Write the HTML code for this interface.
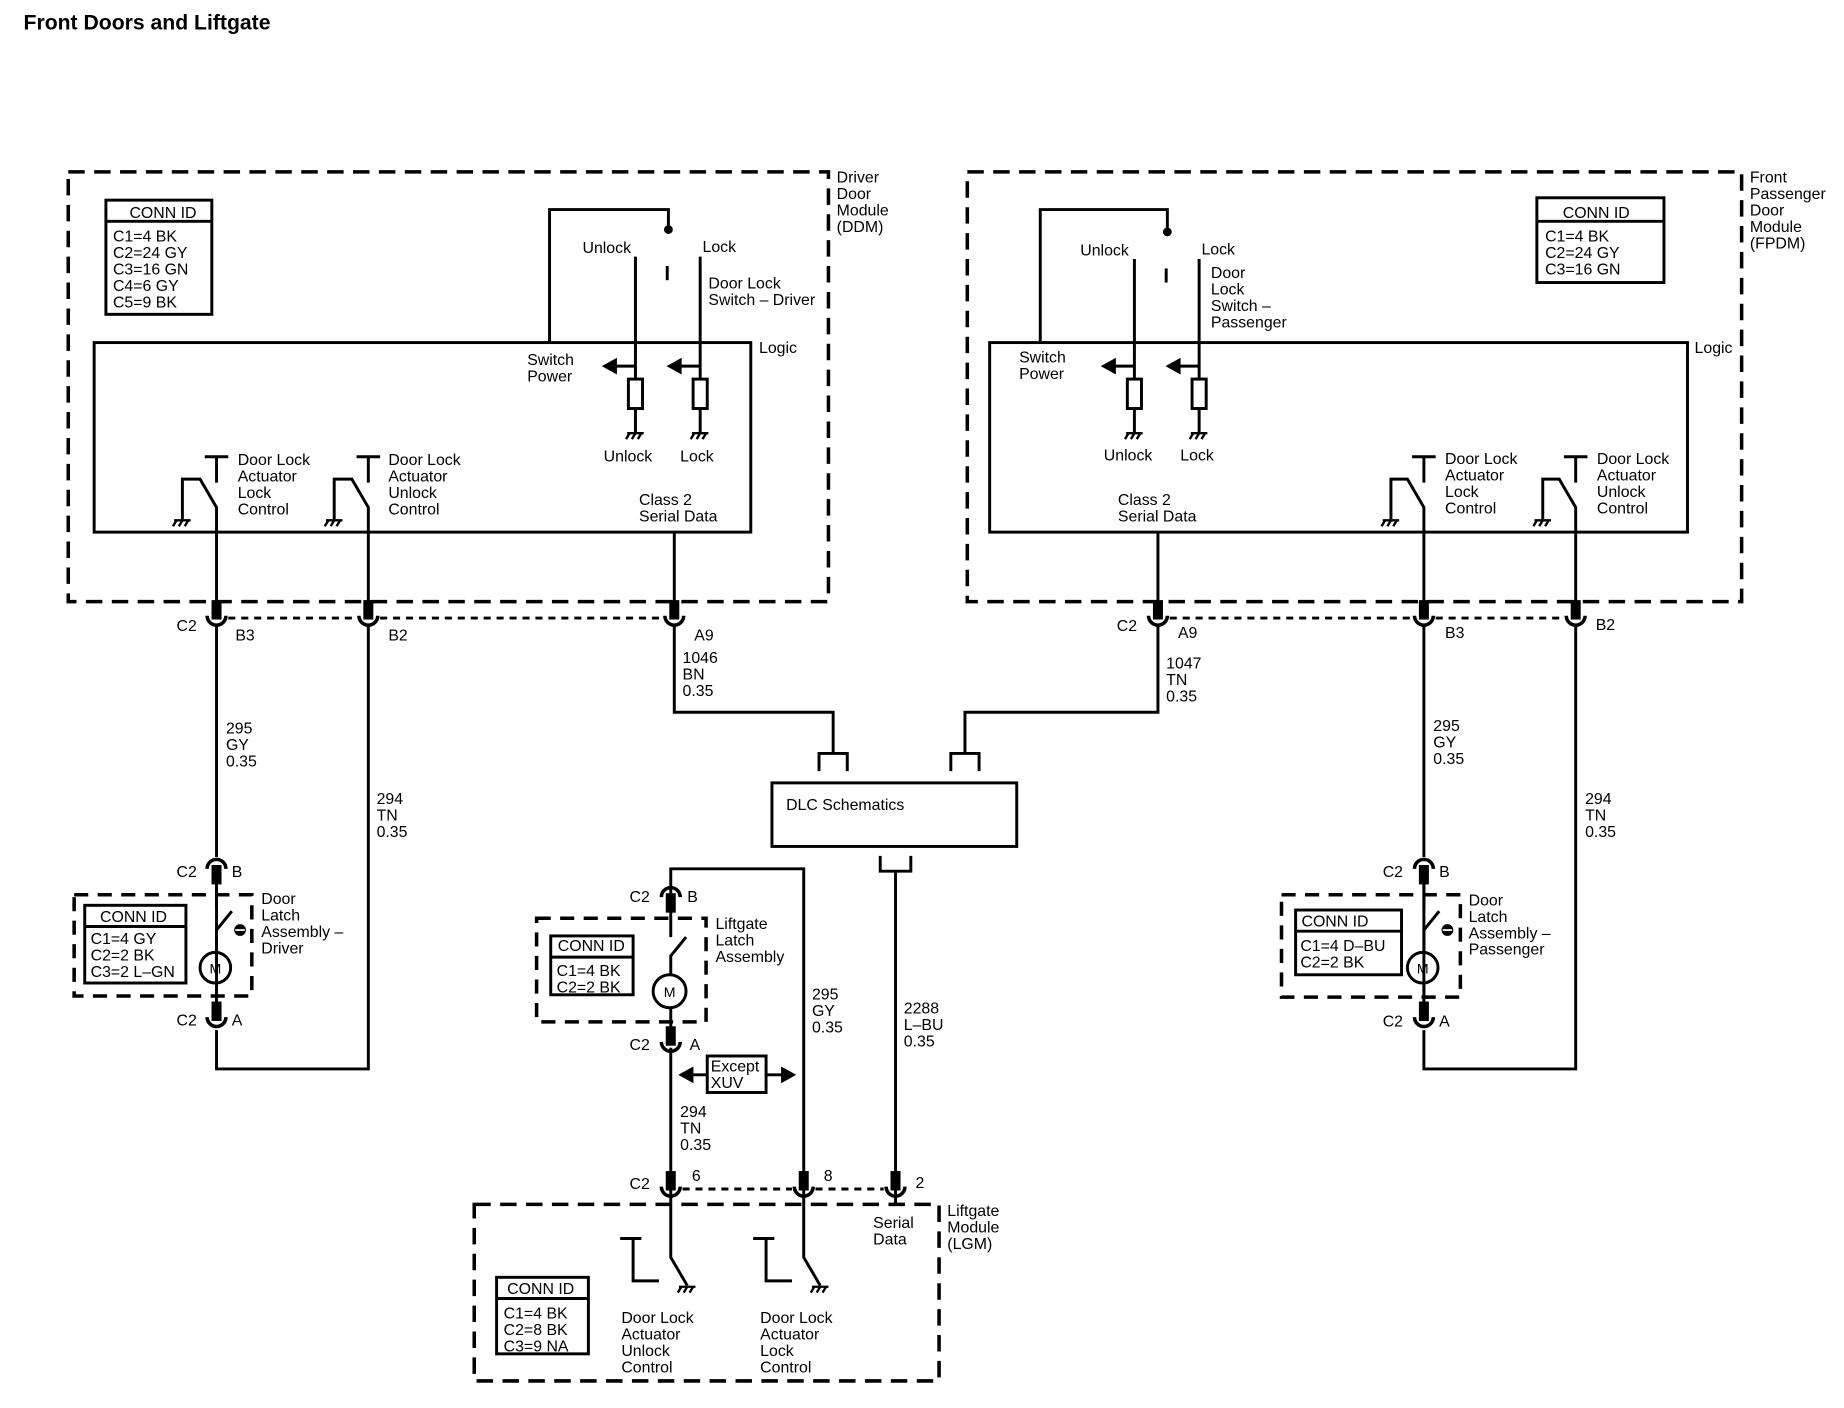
<!DOCTYPE html>
<html><head><meta charset="utf-8"><style>
html,body{margin:0;padding:0;background:#fff}
svg{display:block}
text{font-family:"Liberation Sans",Arial,sans-serif;font-size:13.5px;fill:#000}
</style></head><body>
<svg width="1844" height="1408" viewBox="0 0 1567 1196" preserveAspectRatio="none" xmlns="http://www.w3.org/2000/svg">
<defs>
<g id="cupU"><rect x="-3" y="-14" width="6" height="14" fill="#000"/><path d="M-8,-2 A8,8 0 0,0 8,-2" fill="none" stroke="#000" stroke-width="3"/></g>
<g id="cupD"><path d="M-8,2 A8,8 0 0,1 8,2" fill="none" stroke="#000" stroke-width="3"/><rect x="-3" y="0" width="6" height="14" fill="#000"/></g>
<g id="gnd"><path d="M-7,0 H7 M-5,0 l-3,5 M0,0 l-3,5 M5,0 l-3,5" stroke="#000" stroke-width="2" fill="none"/></g>
</defs>
<g fill="none" stroke="#000" stroke-width="2.5">
<text x="20" y="25" style="font-size:18px;font-weight:bold" stroke="none">Front Doors and Liftgate</text>

<!-- DDM -->
<rect x="58" y="146" width="646" height="365" stroke-width="3" stroke-dasharray="14,8"/>
<rect x="90" y="170" width="90" height="97"/><line x1="90" y1="188" x2="180" y2="188"/>
<rect x="80" y="291" width="558" height="161"/>
<path d="M467,291 V178 H568 V195"/><circle cx="568" cy="195" r="2.5" fill="#000"/>
<path d="M567,226 V238"/>
<path d="M540,218 V322 M540,347 V367 M595,218 V322 M595,347 V367"/>
<rect x="534" y="322" width="12" height="25"/><rect x="589" y="322" width="12" height="25"/>
<path d="M540,311 H522 M595,311 H577"/>
<path d="M514,311 l9,-5 v10z M569,311 l9,-5 v10z" fill="#000"/>
<use href="#gnd" x="540" y="368"/><use href="#gnd" x="595" y="368"/>
<path d="M174,388 H194 M184,388 V410 M155,441 V407 H170 L184,431 V525"/>
<use href="#gnd" x="155" y="442"/>
<path d="M303,388 H323 M313,388 V410 M284,441 V407 H299 L313,431 V525"/>
<use href="#gnd" x="284" y="442"/>
<path d="M573,452 V525"/>
<!-- FPDM -->
<rect x="822" y="146" width="658" height="365" stroke-width="3" stroke-dasharray="14,8"/>
<rect x="1306" y="168" width="108" height="72"/><line x1="1306" y1="188" x2="1414" y2="188"/>
<rect x="841" y="291" width="593" height="161"/>
<path d="M884,291 V178 H992 V197"/><circle cx="992" cy="197" r="2.5" fill="#000"/>
<path d="M991,228 V240"/>
<path d="M964,220 V322 M964,347 V367 M1019,220 V322 M1019,347 V367"/>
<rect x="958" y="322" width="12" height="25"/><rect x="1013" y="322" width="12" height="25"/>
<path d="M964,311 H946 M1019,311 H1001"/>
<path d="M938,311 l9,-5 v10z M993,311 l9,-5 v10z" fill="#000"/>
<use href="#gnd" x="964" y="368"/><use href="#gnd" x="1019" y="368"/>
<path d="M1200,388 H1220 M1210,388 V410 M1182,441 V407 H1196 L1210,431 V525"/>
<use href="#gnd" x="1182" y="442"/>
<path d="M1329,388 H1349 M1339,388 V410 M1311,441 V407 H1325 L1339,431 V525"/>
<use href="#gnd" x="1311" y="442"/>
<path d="M984,452 V525"/>

<!-- connectors row -->
<use href="#cupU" x="184" y="525"/><use href="#cupU" x="313" y="525"/><use href="#cupU" x="573" y="525"/>
<use href="#cupU" x="984" y="525"/><use href="#cupU" x="1210" y="525"/><use href="#cupU" x="1339" y="525"/>
<path d="M194,525 H303 M323,525 H560" stroke-dasharray="6,5"/>
<path d="M994,525 H1200 M1220,525 H1329" stroke-dasharray="6,5"/>

<!-- driver wires -->
<path d="M184,530 V728 M184,752 V860 M184,875 V908 H313 V530"/>
<use href="#cupD" x="184" y="736"/><use href="#cupU" x="184" y="866"/>
<rect x="63" y="760" width="151" height="86" stroke-width="3" stroke-dasharray="12,8"/>
<rect x="72" y="769" width="86" height="66"/><line x1="72" y1="787" x2="158" y2="787"/>
<path d="M184,750 V772 M184,808 V790 L197,774"/>
<circle cx="183" cy="822" r="13"/><path d="M184,835 V852"/>
<circle cx="204" cy="790" r="5" fill="#000" stroke="none"/><line x1="200" y1="790" x2="208" y2="790" stroke="#fff" stroke-width="1.5"/>

<!-- passenger wires -->
<path d="M1210,530 V728 M1210,752 V860 M1210,875 V908 H1339 V530"/>
<use href="#cupD" x="1210" y="736"/><use href="#cupU" x="1210" y="866"/>
<rect x="1089" y="760" width="152" height="87" stroke-width="3" stroke-dasharray="12,8"/>
<rect x="1101" y="773" width="90" height="55"/><line x1="1101" y1="791" x2="1191" y2="791"/>
<path d="M1210,750 V772 M1210,808 V790 L1223,774"/>
<circle cx="1209" cy="822" r="13"/><path d="M1210,835 V852"/>
<circle cx="1230" cy="790" r="5" fill="#000" stroke="none"/><line x1="1226" y1="790" x2="1234" y2="790" stroke="#fff" stroke-width="1.5"/>

<!-- DLC -->
<path d="M573,530 V605 H708 V640 M696,655 V640 H720 V655"/>
<path d="M984,530 V605 H820 V640 M808,655 V640 H832 V655"/>
<rect x="656" y="665" width="208" height="54"/>
<path d="M748,727 V740 H774 V727 M761,740 V1005"/>

<!-- liftgate latch -->
<path d="M570,760 V738 H683 V1005"/>
<use href="#cupD" x="570" y="760"/>
<rect x="456" y="780" width="144" height="88" stroke-width="3" stroke-dasharray="12,8"/>
<rect x="468" y="795" width="70" height="50"/><line x1="468" y1="813" x2="538" y2="813"/>
<path d="M570,772 V796 M570,828 V812 L583,796"/>
<circle cx="569" cy="842" r="14"/><path d="M570,856 V876"/>
<use href="#cupU" x="570" y="887"/>
<path d="M570,890 V1005"/>
<rect x="601" y="897" width="50" height="31"/>
<path d="M587,913 H601 M651,913 H666"/>
<path d="M579,913 l9,-5 v10z M674,913 l-9,-5 v10z" fill="#000"/>

<!-- LGM -->
<use href="#cupU" x="570" y="1010"/><use href="#cupU" x="683" y="1010"/><use href="#cupU" x="761" y="1010"/>
<path d="M580,1010 H673 M693,1010 H751" stroke-dasharray="6,5"/>
<rect x="403" y="1023" width="395" height="150" stroke-width="3" stroke-dasharray="14,8"/>
<rect x="422" y="1085" width="78" height="65"/><line x1="422" y1="1103" x2="500" y2="1103"/>
<path d="M570,1010 V1068 L584,1092 M527,1052 H545 M538,1052 V1088 H560"/>
<use href="#gnd" x="584" y="1093"/>
<path d="M683,1010 V1068 L697,1092 M640,1052 H658 M651,1052 V1088 H673"/>
<use href="#gnd" x="697" y="1093"/>
<path d="M761,1010 V1022"/>
</g>

<g>
<text x="711" y="155">Driver</text><text x="711" y="169">Door</text><text x="711" y="183">Module</text><text x="711" y="197">(DDM)</text>
<text x="110" y="185">CONN ID</text>
<text x="96" y="205">C1=4 BK</text><text x="96" y="219">C2=24 GY</text><text x="96" y="233">C3=16 GN</text><text x="96" y="247">C4=6 GY</text><text x="96" y="261">C5=9 BK</text>
<text x="645" y="300">Logic</text>
<text x="495" y="215">Unlock</text><text x="597" y="214">Lock</text>
<text x="602" y="245">Door Lock</text><text x="602" y="259">Switch – Driver</text>
<text x="448" y="310">Switch</text><text x="448" y="324">Power</text>
<text x="513" y="392">Unlock</text><text x="578" y="392">Lock</text>
<text x="543" y="429">Class 2</text><text x="543" y="443">Serial Data</text>
<text x="202" y="395">Door Lock</text><text x="202" y="409">Actuator</text><text x="202" y="423">Lock</text><text x="202" y="437">Control</text>
<text x="330" y="395">Door Lock</text><text x="330" y="409">Actuator</text><text x="330" y="423">Unlock</text><text x="330" y="437">Control</text>

<text x="1487" y="155">Front</text><text x="1487" y="169">Passenger</text><text x="1487" y="183">Door</text><text x="1487" y="197">Module</text><text x="1487" y="211">(FPDM)</text>
<text x="1328" y="185">CONN ID</text>
<text x="1313" y="205">C1=4 BK</text><text x="1313" y="219">C2=24 GY</text><text x="1313" y="233">C3=16 GN</text>
<text x="1440" y="300">Logic</text>
<text x="918" y="217">Unlock</text><text x="1021" y="216">Lock</text>
<text x="1029" y="236">Door</text><text x="1029" y="250">Lock</text><text x="1029" y="264">Switch –</text><text x="1029" y="278">Passenger</text>
<text x="866" y="308">Switch</text><text x="866" y="322">Power</text>
<text x="938" y="391">Unlock</text><text x="1003" y="391">Lock</text>
<text x="950" y="429">Class 2</text><text x="950" y="443">Serial Data</text>
<text x="1228" y="394">Door Lock</text><text x="1228" y="408">Actuator</text><text x="1228" y="422">Lock</text><text x="1228" y="436">Control</text>
<text x="1357" y="394">Door Lock</text><text x="1357" y="408">Actuator</text><text x="1357" y="422">Unlock</text><text x="1357" y="436">Control</text>

<text x="150" y="536">C2</text><text x="200" y="544">B3</text><text x="330" y="544">B2</text><text x="590" y="544">A9</text>
<text x="949" y="536">C2</text><text x="1001" y="542">A9</text><text x="1228" y="542">B3</text><text x="1356" y="535">B2</text>
<text x="580" y="563">1046</text><text x="580" y="577">BN</text><text x="580" y="591">0.35</text>
<text x="991" y="568">1047</text><text x="991" y="582">TN</text><text x="991" y="596">0.35</text>
<text x="192" y="623">295</text><text x="192" y="637">GY</text><text x="192" y="651">0.35</text>
<text x="320" y="683">294</text><text x="320" y="697">TN</text><text x="320" y="711">0.35</text>
<text x="1218" y="621">295</text><text x="1218" y="635">GY</text><text x="1218" y="649">0.35</text>
<text x="1347" y="683">294</text><text x="1347" y="697">TN</text><text x="1347" y="711">0.35</text>
<text x="668" y="688">DLC Schematics</text>

<text x="150" y="745">C2</text><text x="197" y="745">B</text>
<text x="85" y="783">CONN ID</text>
<text x="77" y="802">C1=4 GY</text><text x="77" y="816">C2=2 BK</text><text x="77" y="830">C3=2 L–GN</text>
<text x="222" y="768">Door</text><text x="222" y="782">Latch</text><text x="222" y="796">Assembly –</text><text x="222" y="810">Driver</text>
<text x="178" y="827" style="font-size:12px">M</text>
<text x="150" y="871">C2</text><text x="197" y="871">A</text>

<text x="1175" y="745">C2</text><text x="1223" y="745">B</text>
<text x="1106" y="787">CONN ID</text>
<text x="1105" y="808">C1=4 D–BU</text><text x="1105" y="822">C2=2 BK</text>
<text x="1248" y="769">Door</text><text x="1248" y="783">Latch</text><text x="1248" y="797">Assembly –</text><text x="1248" y="811">Passenger</text>
<text x="1204" y="827" style="font-size:12px">M</text>
<text x="1175" y="872">C2</text><text x="1223" y="872">A</text>

<text x="535" y="766">C2</text><text x="584" y="766">B</text>
<text x="608" y="789">Liftgate</text><text x="608" y="803">Latch</text><text x="608" y="817">Assembly</text>
<text x="474" y="808">CONN ID</text>
<text x="473" y="829">C1=4 BK</text><text x="473" y="843">C2=2 BK</text>
<text x="564" y="847" style="font-size:12px">M</text>
<text x="535" y="892">C2</text><text x="586" y="892">A</text>
<text x="604" y="910">Except</text><text x="604" y="924">XUV</text>
<text x="690" y="849">295</text><text x="690" y="863">GY</text><text x="690" y="877">0.35</text>
<text x="768" y="861">2288</text><text x="768" y="875">L–BU</text><text x="768" y="889">0.35</text>
<text x="578" y="949">294</text><text x="578" y="963">TN</text><text x="578" y="977">0.35</text>
<text x="535" y="1010">C2</text><text x="588" y="1003">6</text><text x="700" y="1003">8</text><text x="778" y="1009">2</text>
<text x="742" y="1043">Serial</text><text x="742" y="1057">Data</text>
<text x="805" y="1033">Liftgate</text><text x="805" y="1047">Module</text><text x="805" y="1061">(LGM)</text>
<text x="431" y="1099">CONN ID</text>
<text x="428" y="1120">C1=4 BK</text><text x="428" y="1134">C2=8 BK</text><text x="428" y="1148">C3=9 NA</text>
<text x="528" y="1124">Door Lock</text><text x="528" y="1138">Actuator</text><text x="528" y="1152">Unlock</text><text x="528" y="1166">Control</text>
<text x="646" y="1124">Door Lock</text><text x="646" y="1138">Actuator</text><text x="646" y="1152">Lock</text><text x="646" y="1166">Control</text>
</g>
</svg>
</body></html>
